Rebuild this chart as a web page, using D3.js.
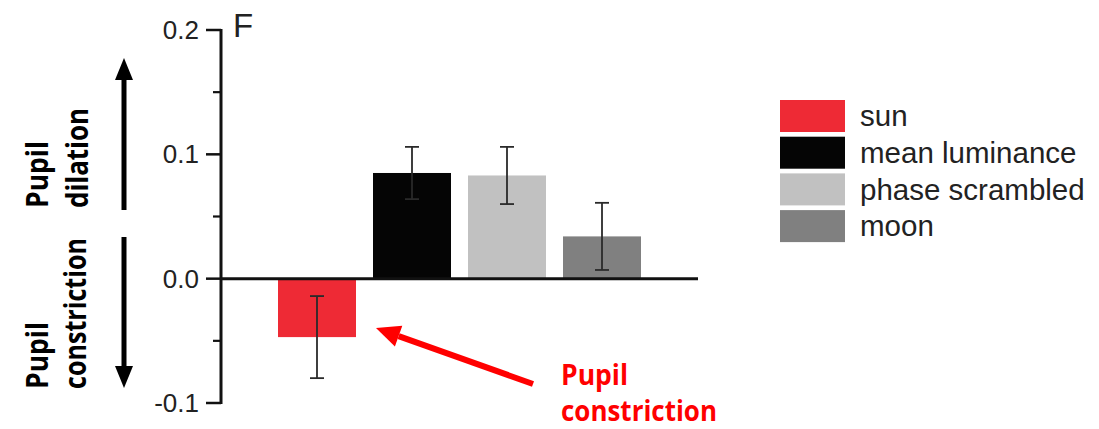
<!DOCTYPE html>
<html><head><meta charset="utf-8">
<script src="https://cdn.jsdelivr.net/npm/d3@7"></script>
<style>body{margin:0;background:#fff}svg{display:block}</style>
</head><body>
<svg id="c" width="1099" height="429"></svg>
<script>
const categories = ["sun", "mean luminance", "phase scrambled", "moon"];
const values = [-0.047, 0.085, 0.083, 0.034];
const errors = [0.033, 0.021, 0.023, 0.027];
const colors = ["#ee2a35", "#050505", "#c1c1c1", "#808080"];
const majorTicks = [0.2, 0.1, 0.0, -0.1];
const minorTicks = [0.15, 0.05, -0.05];

const svg = d3.select("#c");
const y = d3.scaleLinear().domain([-0.1, 0.2]).range([403, 30]);
const x = d3.scaleBand().domain(categories).range([278, 641]).paddingInner(0.179).paddingOuter(0);
const axisX = 221;
const sans = "Liberation Sans, Arial, sans-serif";

// y axis line
svg.append("line").attr("x1", axisX).attr("x2", axisX).attr("y1", y(0.2) - 1).attr("y2", y(-0.1) + 1)
  .attr("stroke", "#111").attr("stroke-width", 3);
svg.selectAll(".mt").data(majorTicks).join("line")
  .attr("x1", 206).attr("x2", axisX).attr("y1", d => y(d)).attr("y2", d => y(d))
  .attr("stroke", "#111").attr("stroke-width", 2.5);
svg.selectAll(".mn").data(minorTicks).join("line")
  .attr("x1", 213).attr("x2", axisX).attr("y1", d => y(d)).attr("y2", d => y(d))
  .attr("stroke", "#111").attr("stroke-width", 2.2);
svg.selectAll(".tl").data(majorTicks).join("text")
  .attr("x", 199).attr("y", d => y(d)).attr("dy", "0.35em").attr("text-anchor", "end")
  .attr("font-family", sans).attr("font-size", 26).attr("fill", "#222")
  .text(d => d3.format(".1f")(d).replace("\u2212", "-"));
svg.append("text").attr("x", 233).attr("y", 37).attr("font-family", sans)
  .attr("font-size", 33).attr("fill", "#222").text("F");

// bars
svg.selectAll(".bar").data(categories).join("rect")
  .attr("x", d => x(d)).attr("width", x.bandwidth())
  .attr("y", (d, i) => y(Math.max(0, values[i])))
  .attr("height", (d, i) => Math.abs(y(values[i]) - y(0)))
  .attr("fill", (d, i) => colors[i]);

// zero line
svg.append("line").attr("x1", axisX).attr("x2", 698).attr("y1", y(0)).attr("y2", y(0))
  .attr("stroke", "#111").attr("stroke-width", 3);

// error bars
const ec = "#2a2a2a";
const eb = svg.selectAll(".eb").data(categories).join("g");
eb.append("line").attr("x1", d => x(d) + x.bandwidth() / 2).attr("x2", d => x(d) + x.bandwidth() / 2)
  .attr("y1", (d, i) => y(values[i] + errors[i])).attr("y2", (d, i) => y(values[i] - errors[i]))
  .attr("stroke", ec).attr("stroke-width", 1.8);
[1, -1].forEach(s => {
  eb.append("line").attr("x1", d => x(d) + x.bandwidth() / 2 - 7).attr("x2", d => x(d) + x.bandwidth() / 2 + 7)
    .attr("y1", (d, i) => y(values[i] + s * errors[i])).attr("y2", (d, i) => y(values[i] + s * errors[i]))
    .attr("stroke", ec).attr("stroke-width", 1.8);
});

// legend
const lg = svg.selectAll(".lg").data(categories).join("g")
  .attr("transform", (d, i) => `translate(780,${100 + i * 36.7})`);
lg.append("rect").attr("width", 65).attr("height", 32).attr("fill", (d, i) => colors[i]);
lg.append("text").attr("x", 80).attr("y", 16).attr("dy", "0.35em")
  .attr("font-family", sans).attr("font-size", 29.5).attr("fill", "#222")
  .text(d => d);

// arrows
function arrow(x1, y1, x2, y2, color, w, hl, hw) {
  const a = Math.atan2(y2 - y1, x2 - x1);
  const bx = x2 - hl * Math.cos(a), by = y2 - hl * Math.sin(a);
  svg.append("line").attr("x1", x1).attr("y1", y1).attr("x2", bx).attr("y2", by)
    .attr("stroke", color).attr("stroke-width", w);
  const px = -Math.sin(a) * hw / 2, py = Math.cos(a) * hw / 2;
  svg.append("path").attr("d", `M${x2},${y2}L${bx + px},${by + py}L${bx - px},${by - py}Z`).attr("fill", color);
}
arrow(124, 210, 124, 58, "#000", 5, 22, 18);
arrow(124, 237, 124, 388, "#000", 5, 22, 18);
arrow(533, 384, 376, 328, "#ff0000", 6, 24, 22);

// side labels
const fam = "Open Sans, Noto Sans, sans-serif";
function vtext(xp, yp, t, len) {
  svg.append("text").attr("transform", `translate(${xp},${yp}) rotate(-90)`)
    .attr("font-family", fam).attr("font-weight", "bold").attr("font-size", 30).attr("fill", "#000")
    .attr("textLength", len).attr("lengthAdjust", "spacingAndGlyphs").text(t);
}
vtext(48, 208, "Pupil", 67);
vtext(88, 208, "dilation", 100);
vtext(48, 389, "Pupil", 67);
vtext(86, 389, "constriction", 151);

svg.append("text").attr("x", 561).attr("y", 385).attr("font-family", fam).attr("font-weight", "bold")
  .attr("font-size", 29).attr("fill", "#ff0000").attr("textLength", 67).attr("lengthAdjust", "spacingAndGlyphs").text("Pupil");
svg.append("text").attr("x", 561).attr("y", 421).attr("font-family", fam).attr("font-weight", "bold")
  .attr("font-size", 29).attr("fill", "#ff0000").attr("textLength", 156).attr("lengthAdjust", "spacingAndGlyphs").text("constriction");
</script>
</body></html>
